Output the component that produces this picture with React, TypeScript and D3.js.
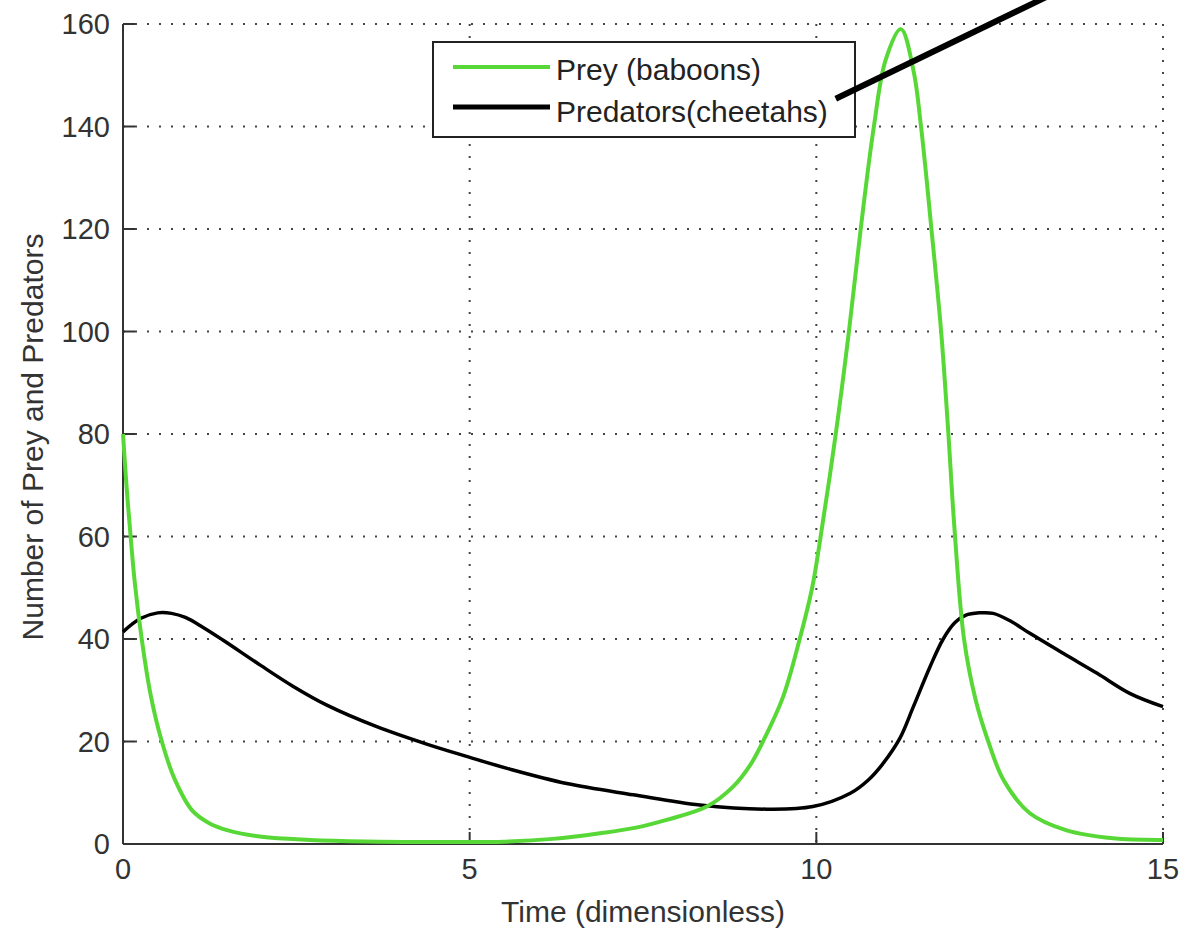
import React from "react";
import * as d3 from "d3";

// ---------- data ----------
const xTicks = [0, 5, 10, 15];
const yTicks = [0, 20, 40, 60, 80, 100, 120, 140, 160];

const preyT = [0, 0.05, 0.11, 0.17, 0.27, 0.4, 0.56, 0.75, 1.0, 1.25, 1.5, 2.0, 2.7, 3.5, 4.5, 5.5, 6.2, 6.88, 7.4, 7.84, 8.42, 8.8, 9.05, 9.23, 9.52, 9.76, 9.94, 10.04, 10.28, 10.47, 10.64, 10.83, 11.0, 11.22, 11.4, 11.51, 11.66, 11.8, 11.9, 11.99, 12.13, 12.3, 12.48, 12.7, 13.08, 13.6, 14.28, 15];
const preyV = [80, 70, 60, 51, 40, 29, 20, 12.5, 6.5, 4, 2.7, 1.4, 0.8, 0.5, 0.4, 0.45, 1.0, 2.1, 3.2, 4.7, 7.3, 11.2, 15.5, 20, 28.7, 40, 50, 58, 80, 100, 120, 140, 153, 159, 151, 140, 120, 100, 81, 62, 40, 28, 20, 12.5, 6, 2.7, 1.1, 0.8];

const predT = [0, 0.25, 0.5, 0.7, 0.9, 1.15, 1.44, 1.98, 2.45, 2.94, 3.66, 4.38, 4.98, 5.58, 6.4, 7.36, 8.32, 9.29, 9.95, 10.49, 10.75, 10.95, 11.2, 11.4, 11.64, 11.83, 12.0, 12.15, 12.35, 12.55, 12.8, 13.08, 13.56, 14.05, 14.52, 15];
const predV = [41.4, 44, 45.1, 45, 44.2, 42.3, 39.8, 34.9, 30.8, 27.1, 22.9, 19.5, 17, 14.6, 11.8, 9.6, 7.6, 6.8, 7.3, 9.9, 12.5, 15.5, 20.5, 26.8, 34.6, 40, 43.2, 44.6, 45.1, 45, 43.5, 41.1, 37.2, 33.3, 29.4, 26.8];

const seriesNames = ["Prey (baboons)", "Predators(cheetahs)"];
const seriesColors = ["#58d836", "#000000"];

// annotation pointer line (data coordinates)
const annotationT = [10.28, 13.52];
const annotationV = [145.4, 166.6];

const xTitle = "Time (dimensionless)";
const yTitle = "Number of Prey and Predators";

// ---------- layout ----------
const W = 1184;
const H = 930;
const PL = 123;
const PR = 1163;
const PT = 24;
const PB = 844;
const FONT = "'Liberation Sans', Arial, Helvetica, sans-serif";

export default function App() {
  const x = d3.scaleLinear().domain([0, 15]).range([PL, PR]);
  const y = d3.scaleLinear().domain([0, 160]).range([PB, PT]);

  const line = d3
    .line<[number, number]>()
    .x((d) => x(d[0]))
    .y((d) => y(d[1]))
    .curve(d3.curveCatmullRom.alpha(0.5));

  const prey: [number, number][] = preyT.map((t, i) => [t, preyV[i]]);
  const pred: [number, number][] = predT.map((t, i) => [t, predV[i]]);

  const gridStyle = { stroke: "#444", strokeWidth: 2, strokeDasharray: "2 10" };
  const tickLen = 12;

  return (
    <svg
      width={W}
      height={H}
      style={{ position: "absolute", left: 0, top: 0, background: "#fff" }}
      fontFamily={FONT}
    >
      <rect x={0} y={0} width={W} height={H} fill="#fff" />
      {/* gridlines */}
      {yTicks.filter((v) => v > 0).map((v) => (
        <line key={"gy" + v} x1={PL} x2={PR} y1={y(v)} y2={y(v)} {...gridStyle} />
      ))}
      {xTicks.filter((v) => v > 0).map((v) => (
        <line key={"gx" + v} x1={x(v)} x2={x(v)} y1={PT} y2={PB} {...gridStyle} />
      ))}

      {/* axes */}
      <line x1={PL} x2={PL} y1={PT} y2={PB} stroke="#333" strokeWidth={2} />
      <line x1={PL} x2={PR} y1={PB} y2={PB} stroke="#333" strokeWidth={2} />
      {yTicks.map((v) => (
        <g key={"yt" + v}>
          <line x1={PL} x2={PL + tickLen} y1={y(v)} y2={y(v)} stroke="#333" strokeWidth={2} />
          <text
            x={PL - 13}
            y={y(v)}
            textAnchor="end"
            dominantBaseline="central"
            fontSize={29}
            fill="#333"
          >
            {v}
          </text>
        </g>
      ))}
      {xTicks.map((v) => (
        <g key={"xt" + v}>
          <line x1={x(v)} x2={x(v)} y1={PB} y2={PB - tickLen} stroke="#333" strokeWidth={2} />
          <text x={x(v)} y={869} textAnchor="middle" dominantBaseline="central" fontSize={29} fill="#333">
            {v}
          </text>
        </g>
      ))}

      {/* axis titles */}
      <text x={(PL + PR) / 2} y={922} textAnchor="middle" fontSize={30} fill="#333">
        {xTitle}
      </text>
      <text
        transform={`translate(43, ${(PT + PB) / 2 + 3}) rotate(-90)`}
        textAnchor="middle"
        fontSize={30}
        fill="#333"
      >
        {yTitle}
      </text>

      {/* series */}
      <path d={line(pred) || ""} fill="none" stroke={seriesColors[1]} strokeWidth={3.5} strokeLinejoin="round" />
      <path d={line(prey) || ""} fill="none" stroke={seriesColors[0]} strokeWidth={4} strokeLinejoin="round" />

      {/* legend */}
      <rect x={433} y={42} width={422} height={95} fill="#fff" stroke="#222" strokeWidth={2} />
      {seriesNames.map((name, i) => (
        <g key={name}>
          <line
            x1={453}
            x2={550}
            y1={i === 0 ? 67 : 107}
            y2={i === 0 ? 67 : 107}
            stroke={seriesColors[i]}
            strokeWidth={i === 0 ? 4 : 5}
          />
          <text x={556} y={i === 0 ? 80 : 122} fontSize={30} fill="#222">
            {name}
          </text>
        </g>
      ))}

      {/* pointer annotation */}
      <line
        x1={x(annotationT[0])}
        y1={y(annotationV[0])}
        x2={x(annotationT[1])}
        y2={y(annotationV[1])}
        stroke="#000"
        strokeWidth={6}
      />
    </svg>
  );
}
